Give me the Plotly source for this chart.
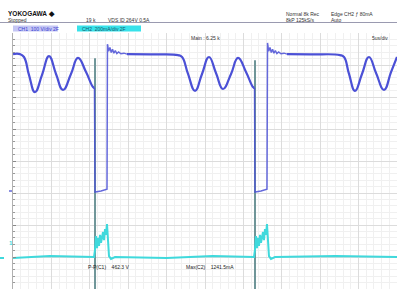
import plotly.graph_objects as go

# ---------------- data (time in us, CH1 in V, CH2 in mA) ----------------
# CH1 (VDS) smooth portions: ringing + flat top, segments separated by None
ch1_smooth_t = [0, 0.91, 1.43, 2.08, 2.86, 3.78, 4.69, 5.60, 6.51, 7.55, 8.46, 9.51, 10.42, 10.61, None,
                14.84, 17.84, 21.48, 22.01, 22.79, 23.70, 24.61, 25.52, 26.43, 27.34, 28.39, 29.30, 30.34, 31.25, 31.45, None,
                35.68, 38.67, 42.58, 43.10, 43.75, 44.53, 45.44, 46.35, 47.27, 48.31, 49.22, 50.0]
ch1_smooth_v = [431, 431, 422, 366, 312, 366, 425, 369, 319, 369, 419, 375, 328, 325, None,
                431, 430, 428, 422, 369, 316, 369, 422, 372, 322, 369, 419, 375, 328, 325, None,
                431, 430, 428, 422, 369, 316, 369, 422, 372, 319, 375, 422]
# CH1 switching edges: turn-on drop, on-state, turn-off overshoot ringing
ch1_edge_t = [10.61, 10.68, 11.46, 12.24, 12.30, 12.45, 12.62, 12.79, 12.96, 13.13, 13.32, 13.52, 13.75, 14.05, 14.45, 14.84, None,
              31.45, 31.51, 32.29, 33.07, 33.14, 33.29, 33.46, 33.63, 33.80, 33.97, 34.16, 34.36, 34.59, 34.89, 35.29, 35.68]
ch1_edge_v = [325, 0, 3, 9, 462, 440, 452, 436, 446, 434, 442, 433, 438, 432, 434, 431, None,
              325, 0, 3, 9, 466, 440, 452, 436, 446, 434, 442, 433, 438, 432, 434, 431]
# CH2 (ID) current
ch2_t = [0, 4.8, 10.55, 10.68, 10.81, 10.94, 11.07, 11.20, 11.33, 11.46, 11.72, 11.85, 11.98, 12.11, 12.24, 12.37, 12.50, 12.76, 13.28,
         20.0, 26.0, 31.38, 31.51, 31.64, 31.77, 31.90, 32.03, 32.16, 32.29, 32.55, 32.68, 32.81, 32.94, 33.07, 33.20, 33.33, 33.59, 34.11,
         42.0, 50.0]
ch2_i = [-6, 6, 0, 44, 131, 56, 119, 69, 138, 88, 156, 106, 175, 138, 206, 69, 6, -12, 0,
         -6, 6, 0, 44, 131, 56, 119, 69, 138, 88, 156, 106, 175, 138, 206, 69, 6, -12, 0,
         6, 0]
# CH2 turn-on spikes (full-scale)
spike_t = [10.68, 10.68, None, 31.51, 31.51]
spike_i = [1241.5, -500, None, 1230, -500]

ch1_scale, ch1_pos = 100.0, -0.97   # V/div, div
ch2_scale, ch2_pos = 200.0, -3.0    # mA/div, div

def to_div(vals, scale, pos):
    return [None if v is None else v / scale + pos for v in vals]

BLUE = "#4b50d6"
CYAN = "#3fd9dc"

fig = go.Figure()
fig.add_trace(go.Scatter(x=spike_t, y=to_div(spike_i, ch2_scale, ch2_pos), mode="lines",
                         line=dict(color="#6f9598", width=2), hoverinfo="skip"))
fig.add_trace(go.Scatter(x=ch2_t, y=to_div(ch2_i, ch2_scale, ch2_pos), mode="lines",
                         line=dict(color=CYAN, width=2), hoverinfo="skip"))
fig.add_trace(go.Scatter(x=ch1_smooth_t, y=to_div(ch1_smooth_v, ch1_scale, ch1_pos), mode="lines",
                         line=dict(color=BLUE, width=2.2, shape="spline", smoothing=1.3), hoverinfo="skip"))
fig.add_trace(go.Scatter(x=ch1_edge_t, y=to_div(ch1_edge_v, ch1_scale, ch1_pos), mode="lines",
                         line=dict(color=BLUE, width=1.5), opacity=0.85, hoverinfo="skip"))

FONT = "Liberation Sans"

def px_x(px):
    return (px - 13) / 384.0

def px_y(py):
    return (289 - py) / 256.0

ann = []
def txt(px, py, s, color="#222", size=5, bold=False, anchor="left"):
    ann.append(dict(x=px_x(px), y=px_y(py), xref="paper", yref="paper", text=("<b>%s</b>" % s) if bold else s,
                    showarrow=False, xanchor=anchor, yanchor="middle",
                    font=dict(family=FONT, size=size, color=color)))

txt(6, 14, "YOKOGAWA \u25c6", "#111", 6.5, True)
txt(6, 20, "Stopped", "#333", 5)
txt(84, 20, "19 k", "#333", 5)
txt(106, 20, "VDS ID 264V 0.5A", "#333", 5)
txt(284, 14, "Normal 8k Rec", "#333", 5)
txt(329, 14, "Edge CH2 \u0192 80mA", "#333", 5)
txt(284, 20, "8kP 125kS/s", "#333", 5)
txt(329, 20, "Auto", "#333", 5)
txt(16, 28.5, "CH1  100 V/div 2F", "#3a40d0", 5)
txt(80, 28.5, "CH2  200mA/div 2F", "#1a5a6a", 5)
txt(189, 38, "Main : 6.25 k", "#333", 5)
txt(390, 38, "5us/div", "#333", 5, anchor="right")
txt(86, 267, "P-P(C1)    462.3 V", "#222", 5)
txt(184, 267, "Max(C2)    1241.5mA", "#222", 5)
txt(7, 243, "1", CYAN, 6, True)

shapes = [
    dict(type="line", xref="paper", yref="paper", x0=px_x(0), x1=px_x(397), y0=px_y(22.5), y1=px_y(22.5),
         line=dict(color="#9a9ab0", width=1)),
    dict(type="rect", xref="paper", yref="paper", x0=px_x(13), x1=px_x(58), y0=px_y(31.5), y1=px_y(25.5),
         fillcolor="#c4c6f4", line=dict(width=0), layer="below"),
    dict(type="rect", xref="paper", yref="paper", x0=px_x(77), x1=px_x(141), y0=px_y(31.5), y1=px_y(25.5),
         fillcolor="#38e2ea", line=dict(width=0), layer="below"),
    dict(type="line", xref="paper", yref="paper", x0=px_x(9), x1=px_x(12), y0=px_y(191), y1=px_y(191),
         line=dict(color="#8a8ee0", width=2)),
    dict(type="line", xref="paper", yref="paper", x0=px_x(0), x1=px_x(4), y0=px_y(258), y1=px_y(258),
         line=dict(color=CYAN, width=2)),
]

fig.update_layout(
    width=397, height=289,
    margin=dict(l=13, r=0, t=33, b=0),
    paper_bgcolor="white", plot_bgcolor="white",
    showlegend=False,
    annotations=ann, shapes=shapes,
    xaxis=dict(range=[0, 50], dtick=5, tick0=0, showgrid=True, gridcolor="#dcdcdc", gridwidth=1,
               minor=dict(dtick=1, showgrid=True, gridcolor="#f0f0f0", griddash="solid"),
               showticklabels=False, zeroline=False, fixedrange=True),
    yaxis=dict(range=[-4, 4], dtick=1, tick0=0, showgrid=True, gridcolor="#dcdcdc", gridwidth=1,
               minor=dict(dtick=0.2, showgrid=True, gridcolor="#f0f0f0", griddash="solid",
                          ticks="inside", ticklen=2, tickcolor="#999"),
               ticks="inside", ticklen=3, tickcolor="#888",
               showline=True, linecolor="#b0b0b0", linewidth=1,
               showticklabels=False, zeroline=False, fixedrange=True),
)

fig.write_html("out.html", config={"displayModeBar": False},
               post_script="document.body.style.margin='0';document.body.style.padding='0';"
                           "document.documentElement.style.overflow='hidden';")
